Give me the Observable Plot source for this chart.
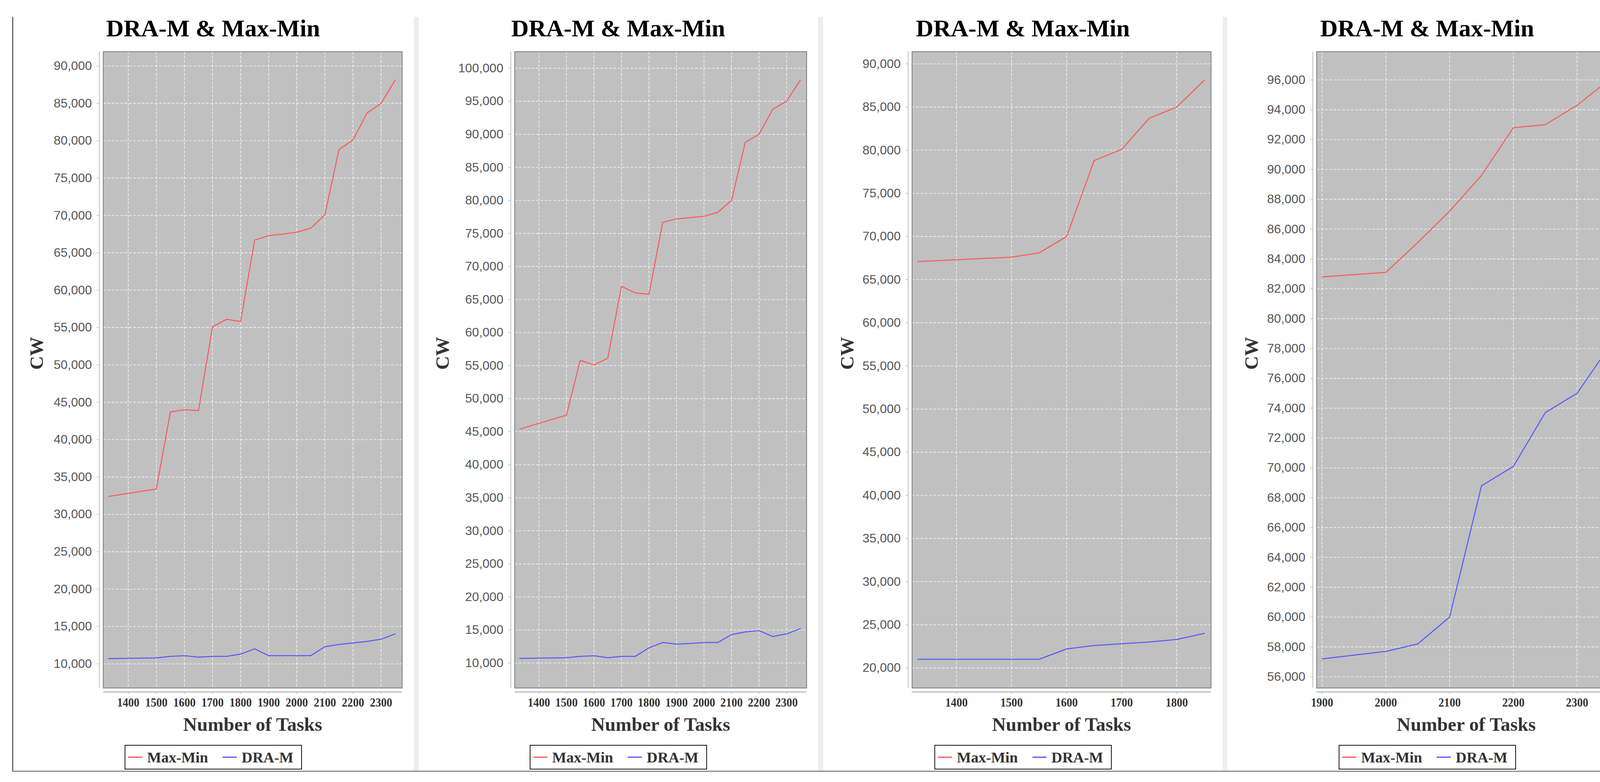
<!DOCTYPE html>
<html><head><meta charset="utf-8">
<script src="https://cdn.jsdelivr.net/npm/d3@7"></script>
<script src="https://cdn.jsdelivr.net/npm/@observablehq/plot@0.6"></script>
<style>
html,body{margin:0;padding:0;background:#fff;}
#page{position:relative;width:4191px;height:2001px;background:#fff;overflow:hidden;}
.blk{position:absolute;}
.title{position:absolute;top:41px;text-align:center;font-family:"Liberation Serif","Times New Roman",serif;font-weight:bold;font-size:62px;line-height:62px;color:#000;white-space:nowrap;}
.legend{position:absolute;top:1906px;width:454px;height:63px;box-sizing:border-box;border:2.5px solid #111;display:flex;align-items:center;font-family:"Liberation Serif","Times New Roman",serif;font-weight:bold;font-size:38.5px;color:#333;white-space:nowrap;background:#fff;}
.legend .sw{display:inline-block;width:36px;height:3px;}
.chart{position:absolute;top:100px;}
.chart svg{overflow:visible;}
</style></head><body>
<div id="page"></div>
<script>
// ---------- text ----------
const titleText = "DRA-M & Max-Min";
const seriesNames = ["Max-Min", "DRA-M"];
const seriesColors = ["#ff5555", "#5555ff"];
const xLabel = "Number of Tasks";
const yLabel = "CW";

// ---------- panel 1 ----------
const tasks1  = [1330, 1500, 1550, 1600, 1650, 1700, 1750, 1800, 1850, 1900, 1950, 2000, 2050, 2100, 2150, 2200, 2250, 2300, 2350];
const maxMin1 = [32400, 33400, 43700, 44000, 43900, 55100, 56100, 55800, 66700, 67300, 67500, 67750, 68300, 70100, 78800, 80100, 83700, 85000, 88100];
const draM1   = [10700, 10800, 11000, 11100, 10900, 11000, 11000, 11300, 12000, 11100, 11100, 11100, 11100, 12300, 12600, 12800, 13000, 13300, 14000];
const xTicks1 = [1400, 1500, 1600, 1700, 1800, 1900, 2000, 2100, 2200, 2300];
const yTicks1 = [10000, 15000, 20000, 25000, 30000, 35000, 40000, 45000, 50000, 55000, 60000, 65000, 70000, 75000, 80000, 85000, 90000];
const xDomain1 = [1311, 2375];
const yDomain1 = [6768, 91914];

// ---------- panel 2 ----------
const tasks2  = [1330, 1500, 1550, 1600, 1650, 1700, 1750, 1800, 1850, 1900, 1950, 2000, 2050, 2100, 2150, 2200, 2250, 2300, 2350];
const maxMin2 = [45400, 47500, 55800, 55100, 56100, 67000, 66000, 65800, 76700, 77200, 77400, 77600, 78200, 80000, 88800, 90000, 93800, 95000, 98200];
const draM2   = [10700, 10800, 11000, 11100, 10800, 11000, 11000, 12300, 13100, 12850, 12950, 13100, 13100, 14300, 14700, 14900, 14000, 14400, 15200];
const xTicks2 = [1400, 1500, 1600, 1700, 1800, 1900, 2000, 2100, 2200, 2300];
const yTicks2 = [10000, 15000, 20000, 25000, 30000, 35000, 40000, 45000, 50000, 55000, 60000, 65000, 70000, 75000, 80000, 85000, 90000, 95000, 100000];
const xDomain2 = [1312, 2373];
const yDomain2 = [6214, 102508];

// ---------- panel 3 ----------
const tasks3  = [1330, 1500, 1550, 1600, 1650, 1700, 1750, 1800, 1850];
const maxMin3 = [67100, 67600, 68100, 70000, 78800, 80100, 83700, 85000, 88100];
const draM3   = [21000, 21000, 21000, 22200, 22600, 22800, 23000, 23300, 24000];
const xTicks3 = [1400, 1500, 1600, 1700, 1800];
const yTicks3 = [20000, 25000, 30000, 35000, 40000, 45000, 50000, 55000, 60000, 65000, 70000, 75000, 80000, 85000, 90000];
const xDomain3 = [1319.3, 1862.3];
const yDomain3 = [17671, 91418];

// ---------- panel 4 ----------
const tasks4  = [1900, 2000, 2050, 2100, 2150, 2200, 2250, 2300, 2350];
const maxMin4 = [82800, 83100, 85100, 87200, 89600, 92800, 93000, 94300, 96000];
const draM4   = [57200, 57700, 58200, 60000, 68800, 70100, 73700, 75000, 78100];
const xTicks4 = [1900, 2000, 2100, 2200, 2300];
const yTicks4 = [56000, 58000, 60000, 62000, 64000, 66000, 68000, 70000, 72000, 74000, 76000, 78000, 80000, 82000, 84000, 86000, 88000, 90000, 92000, 94000, 96000];
const xDomain4 = [1891.5, 2360.8];
const yDomain4 = [55246, 97893];

// ---------- layout ----------
const panels = [
  {left: 32,   right: 1059, plotLeft: 263.8,  plotRight: 1029,   tasks: tasks1, maxMin: maxMin1, draM: draM1, xTicks: xTicks1, yTicks: yTicks1, xDomain: xDomain1, yDomain: yDomain1},
  {left: 1071, right: 2094, plotLeft: 1317.2, plotRight: 2064.5, tasks: tasks2, maxMin: maxMin2, draM: draM2, xTicks: xTicks2, yTicks: yTicks2, xDomain: xDomain2, yDomain: yDomain2},
  {left: 2107, right: 3130, plotLeft: 2334.4, plotRight: 3099.8, tasks: tasks3, maxMin: maxMin3, draM: draM3, xTicks: xTicks3, yTicks: yTicks3, xDomain: xDomain3, yDomain: yDomain3},
  {left: 3142, right: 4165, plotLeft: 3370.2, plotRight: 4136.2, tasks: tasks4, maxMin: maxMin4, draM: draM4, xTicks: xTicks4, yTicks: yTicks4, xDomain: xDomain4, yDomain: yDomain4}
];
const svgTop = 100, svgHeight = 1790, plotTop = 131.7, plotBottom = 1760;

const page = document.getElementById("page");
function addBlock(l, t, w, h, bg) {
  const d = document.createElement("div");
  d.className = "blk";
  d.style.cssText = `left:${l}px;top:${t}px;width:${w}px;height:${h}px;background:${bg};`;
  page.appendChild(d);
}
// separators and frame
addBlock(1059, 43, 12.5, 1930, "#eeeeee");
addBlock(2094, 43, 13, 1930, "#eeeeee");
addBlock(3130, 43, 12, 1930, "#eeeeee");
addBlock(31, 43, 2.5, 1932, "#666666");
addBlock(31, 1972, 4134, 3, "#8a8a8a");

const gridStyle = {stroke: "#ffffff", strokeOpacity: 0.85, strokeWidth: 1.6, strokeDasharray: "7,4"};

panels.forEach(p => {
  const W = p.right - p.left;
  const mL = p.plotLeft - p.left, mR = p.right - p.plotRight;
  const mT = plotTop - svgTop, mB = svgTop + svgHeight - plotBottom;
  const mm = p.tasks.map((t, i) => ({task: t, cw: p.maxMin[i]}));
  const dr = p.tasks.map((t, i) => ({task: t, cw: p.draM[i]}));

  const chart = Plot.plot({
    width: W, height: svgHeight,
    marginLeft: mL, marginRight: mR, marginTop: mT, marginBottom: mB,
    x: {domain: p.xDomain},
    y: {domain: p.yDomain},
    style: {fontFamily: "'Liberation Sans', Arial, sans-serif", fontSize: "32px", background: "transparent", overflow: "visible"},
    marks: [
      Plot.frame({fill: "#c0c0c0", stroke: "none"}),
      Plot.gridX(p.xTicks, gridStyle),
      Plot.gridY(p.yTicks, gridStyle),
      Plot.line(mm, {x: "task", y: "cw", stroke: seriesColors[0], strokeWidth: 2.5}),
      Plot.line(dr, {x: "task", y: "cw", stroke: seriesColors[1], strokeWidth: 2.5}),
      Plot.frame({stroke: "#7a7a7a", strokeWidth: 2}),
      Plot.ruleX([p.xDomain[0]], {dx: -10, stroke: "#a8a8a8", strokeWidth: 1.5}),
      Plot.ruleY([p.yDomain[0]], {dy: 10, stroke: "#b0b0b0", strokeWidth: 2.5}),
      Plot.axisY(p.yTicks, {anchor: "left", dx: -10, tickSize: 6, tickPadding: 13, tickFormat: d3.format(","), label: null,
        fill: "#555", stroke: "#999", fontSize: 32, fontFamily: "'Liberation Sans', Arial, sans-serif"}),
      Plot.axisX(p.xTicks, {anchor: "bottom", dy: 10, tickSize: 6, tickPadding: 8, tickFormat: d => String(d), label: null,
        fill: "#333", stroke: "#999", fontSize: 32.5, fontWeight: "bold", fontFamily: "'Liberation Serif', 'Times New Roman', serif"}),
      Plot.text([yLabel], {text: d => d, frameAnchor: "left", rotate: -90, lineAnchor: "top", dx: 42.6 - mL,
        fontFamily: "'Liberation Serif', 'Times New Roman', serif", fontWeight: "bold", fontSize: 49, fill: "#333"}),
      Plot.text([xLabel], {text: d => d, frameAnchor: "bottom", lineAnchor: "bottom", dy: 109.5,
        fontFamily: "'Liberation Serif', 'Times New Roman', serif", fontWeight: "bold", fontSize: 49, fill: "#333"})
    ]
  });
  // condensed x tick labels
  d3.select(chart).selectAll('g[aria-label="x-axis tick label"] text').each(function() {
    const tr = this.getAttribute("transform") || "";
    this.setAttribute("transform", tr + " scale(0.88,1)");
  });

  const holder = document.createElement("div");
  holder.className = "chart";
  holder.style.left = p.left + "px";
  holder.style.width = W + "px";
  holder.appendChild(chart);
  page.appendChild(holder);

  const t = document.createElement("div");
  t.className = "title";
  t.style.left = p.left + "px";
  t.style.width = W + "px";
  t.textContent = titleText;
  page.appendChild(t);

  const lg = document.createElement("div");
  lg.className = "legend";
  lg.style.left = ((p.left + p.right) / 2 - 227) + "px";
  lg.innerHTML =
    `<span class="sw" style="background:${seriesColors[0]};margin-left:7px"></span>` +
    `<span style="margin-left:13px">${seriesNames[0]}</span>` +
    `<span class="sw" style="background:${seriesColors[1]};margin-left:37px"></span>` +
    `<span style="margin-left:13px">${seriesNames[1]}</span>`;
  page.appendChild(lg);
});
</script>
</body></html>
